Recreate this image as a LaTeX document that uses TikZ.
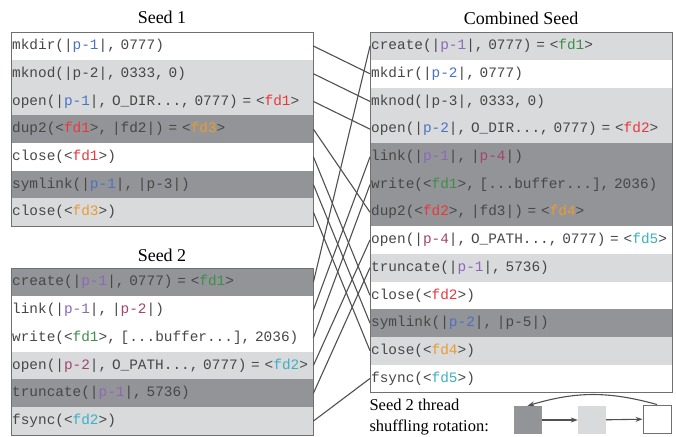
\documentclass[tikz,border=0pt]{standalone}
\usepackage{fontspec}
\usepackage{xcolor}
\usetikzlibrary{arrows.meta}
\setmainfont{Liberation Serif}
\newfontfamily\codefont{Liberation Mono}
\newcommand\hl[2]{\textcolor{#1}{#2}}

\begin{document}
\begin{tikzpicture}[x=1pt,y=-1pt,
  row/.style={anchor=north west,minimum width=302pt,minimum height=27.7pt,text width=300pt,
    inner xsep=1pt,inner ysep=0pt,align=left,text=codegray,
    font={\codefont\fontsize{14.4pt}{16pt}\selectfont}},
  title/.style={font={\fontsize{18pt}{20pt}\selectfont}},
  frame/.style={draw=framegray,line width=0.8pt},
  link/.style={draw=linegray,line width=1.1pt},
  legbox/.style={minimum size=28pt,inner sep=0pt},
  legarrow/.style={draw=linegray,line width=1.1pt,-{Stealth[length=7pt,width=5pt]}}]
\definecolor{lightg}{HTML}{D9DADC}
\definecolor{darkg}{HTML}{939497}
\definecolor{codegray}{HTML}{474747}
\definecolor{framegray}{HTML}{707070}
\definecolor{linegray}{HTML}{505050}
\definecolor{pblue}{HTML}{4C72C4}
\definecolor{ppurple}{HTML}{8D68B8}
\definecolor{pplum}{HTML}{A3456F}
\definecolor{fdred}{HTML}{E8383D}
\definecolor{fdorange}{HTML}{E89B32}
\definecolor{fdgreen}{HTML}{3E8E4A}
\definecolor{fdcyan}{HTML}{3CB0C4}
\useasboundingbox (0,0) rectangle (676,436);

\node[title] (seedone) at (162,17) {Seed 1};
\node[title] (seedtwo) at (162,255) {Seed 2};
\node[title] (combined) at (521,18) {Combined Seed};

% seed 1
\foreach \i/\fc/\txt in {
  1/white/{mkdir(|\hl{pblue}{p-1}|, 0777)},
  2/lightg/{mknod(|p-2|, 0333, 0)},
  3/lightg/{open(|\hl{pblue}{p-1}|, O\_DIR..., 0777) = <\hl{fdred}{fd1}>},
  4/darkg/{dup2(<\hl{fdred}{fd1}>, |fd2|) = <\hl{fdorange}{fd3}>},
  5/white/{close(<\hl{fdred}{fd1}>)},
  6/darkg/{symlink(|\hl{pblue}{p-1}|, |p-3|)},
  7/lightg/{close(<\hl{fdorange}{fd3}>)}}
  {\node[row,fill=\fc] (sa\i) at (11,{32+27.7*(\i-1)}) {\txt};}
\draw[frame] (sa1.north west) rectangle (sa7.south east);

% seed 2
\foreach \i/\fc/\txt in {
  1/darkg/{create(|\hl{ppurple}{p-1}|, 0777) = <\hl{fdgreen}{fd1}>},
  2/white/{link(|\hl{ppurple}{p-1}|, |\hl{pplum}{p-2}|)},
  3/white/{write(<\hl{fdgreen}{fd1}>, [...buffer...], 2036)},
  4/lightg/{open(|\hl{pplum}{p-2}|, O\_PATH..., 0777) = <\hl{fdcyan}{fd2}>},
  5/darkg/{truncate(|\hl{ppurple}{p-1}|, 5736)},
  6/lightg/{fsync(<\hl{fdcyan}{fd2}>)}}
  {\node[row,fill=\fc] (sb\i) at (11,{268+27.8*(\i-1)}) {\txt};}
\draw[frame] (sb1.north west) rectangle (sb6.south east);

% combined seed
\foreach \i/\fc/\txt in {
  1/lightg/{create(|\hl{ppurple}{p-1}|, 0777) = <\hl{fdgreen}{fd1}>},
  2/white/{mkdir(|\hl{pblue}{p-2}|, 0777)},
  3/lightg/{mknod(|p-3|, 0333, 0)},
  4/lightg/{open(|\hl{pblue}{p-2}|, O\_DIR..., 0777) = <\hl{fdred}{fd2}>},
  5/darkg/{link(|\hl{ppurple}{p-1}|, |\hl{pplum}{p-4}|)},
  6/darkg/{write(<\hl{fdgreen}{fd1}>, [...buffer...], 2036)},
  7/darkg/{dup2(<\hl{fdred}{fd2}>, |fd3|) = <\hl{fdorange}{fd4}>},
  8/white/{open(|\hl{pplum}{p-4}|, O\_PATH..., 0777) = <\hl{fdcyan}{fd5}>},
  9/lightg/{truncate(|\hl{ppurple}{p-1}|, 5736)},
  10/white/{close(<\hl{fdred}{fd2}>)},
  11/darkg/{symlink(|\hl{pblue}{p-2}|, |p-5|)},
  12/lightg/{close(<\hl{fdorange}{fd4}>)},
  13/white/{fsync(<\hl{fdcyan}{fd5}>)}}
  {\node[row,fill=\fc] (cb\i) at (370,{32+27.7*(\i-1)}) {\txt};}
\draw[frame] (cb1.north west) rectangle (cb13.south east);

% where each call lands
\foreach \a/\b in {sa1/cb2,sa2/cb3,sa3/cb4,sa4/cb7,sa5/cb10,sa6/cb11,sa7/cb12,
  sb1/cb1,sb2/cb5,sb3/cb6,sb4/cb8,sb5/cb9,sb6/cb13}
  {\draw[link] (\a.east) -- (\b.west);}

% legend
\node[anchor=west,align=left,font={\fontsize{16.5pt}{21pt}\selectfont}] (legtext) at (366,417)
  {Seed 2 thread\\shuffling rotation:};
\node[legbox,fill=darkg] (ldark) at (527.5,420) {};
\node[legbox,fill=lightg] (llight) at (592,420) {};
\node[legbox,draw=framegray,line width=1pt,fill=white] (lwhite) at (657,419) {};
\draw[legarrow] (ldark) -- (llight);
\draw[legarrow] (llight) -- (lwhite);
\draw[legarrow] (lwhite.north) to[bend right=16] (ldark.north);
\end{tikzpicture}
\end{document}
